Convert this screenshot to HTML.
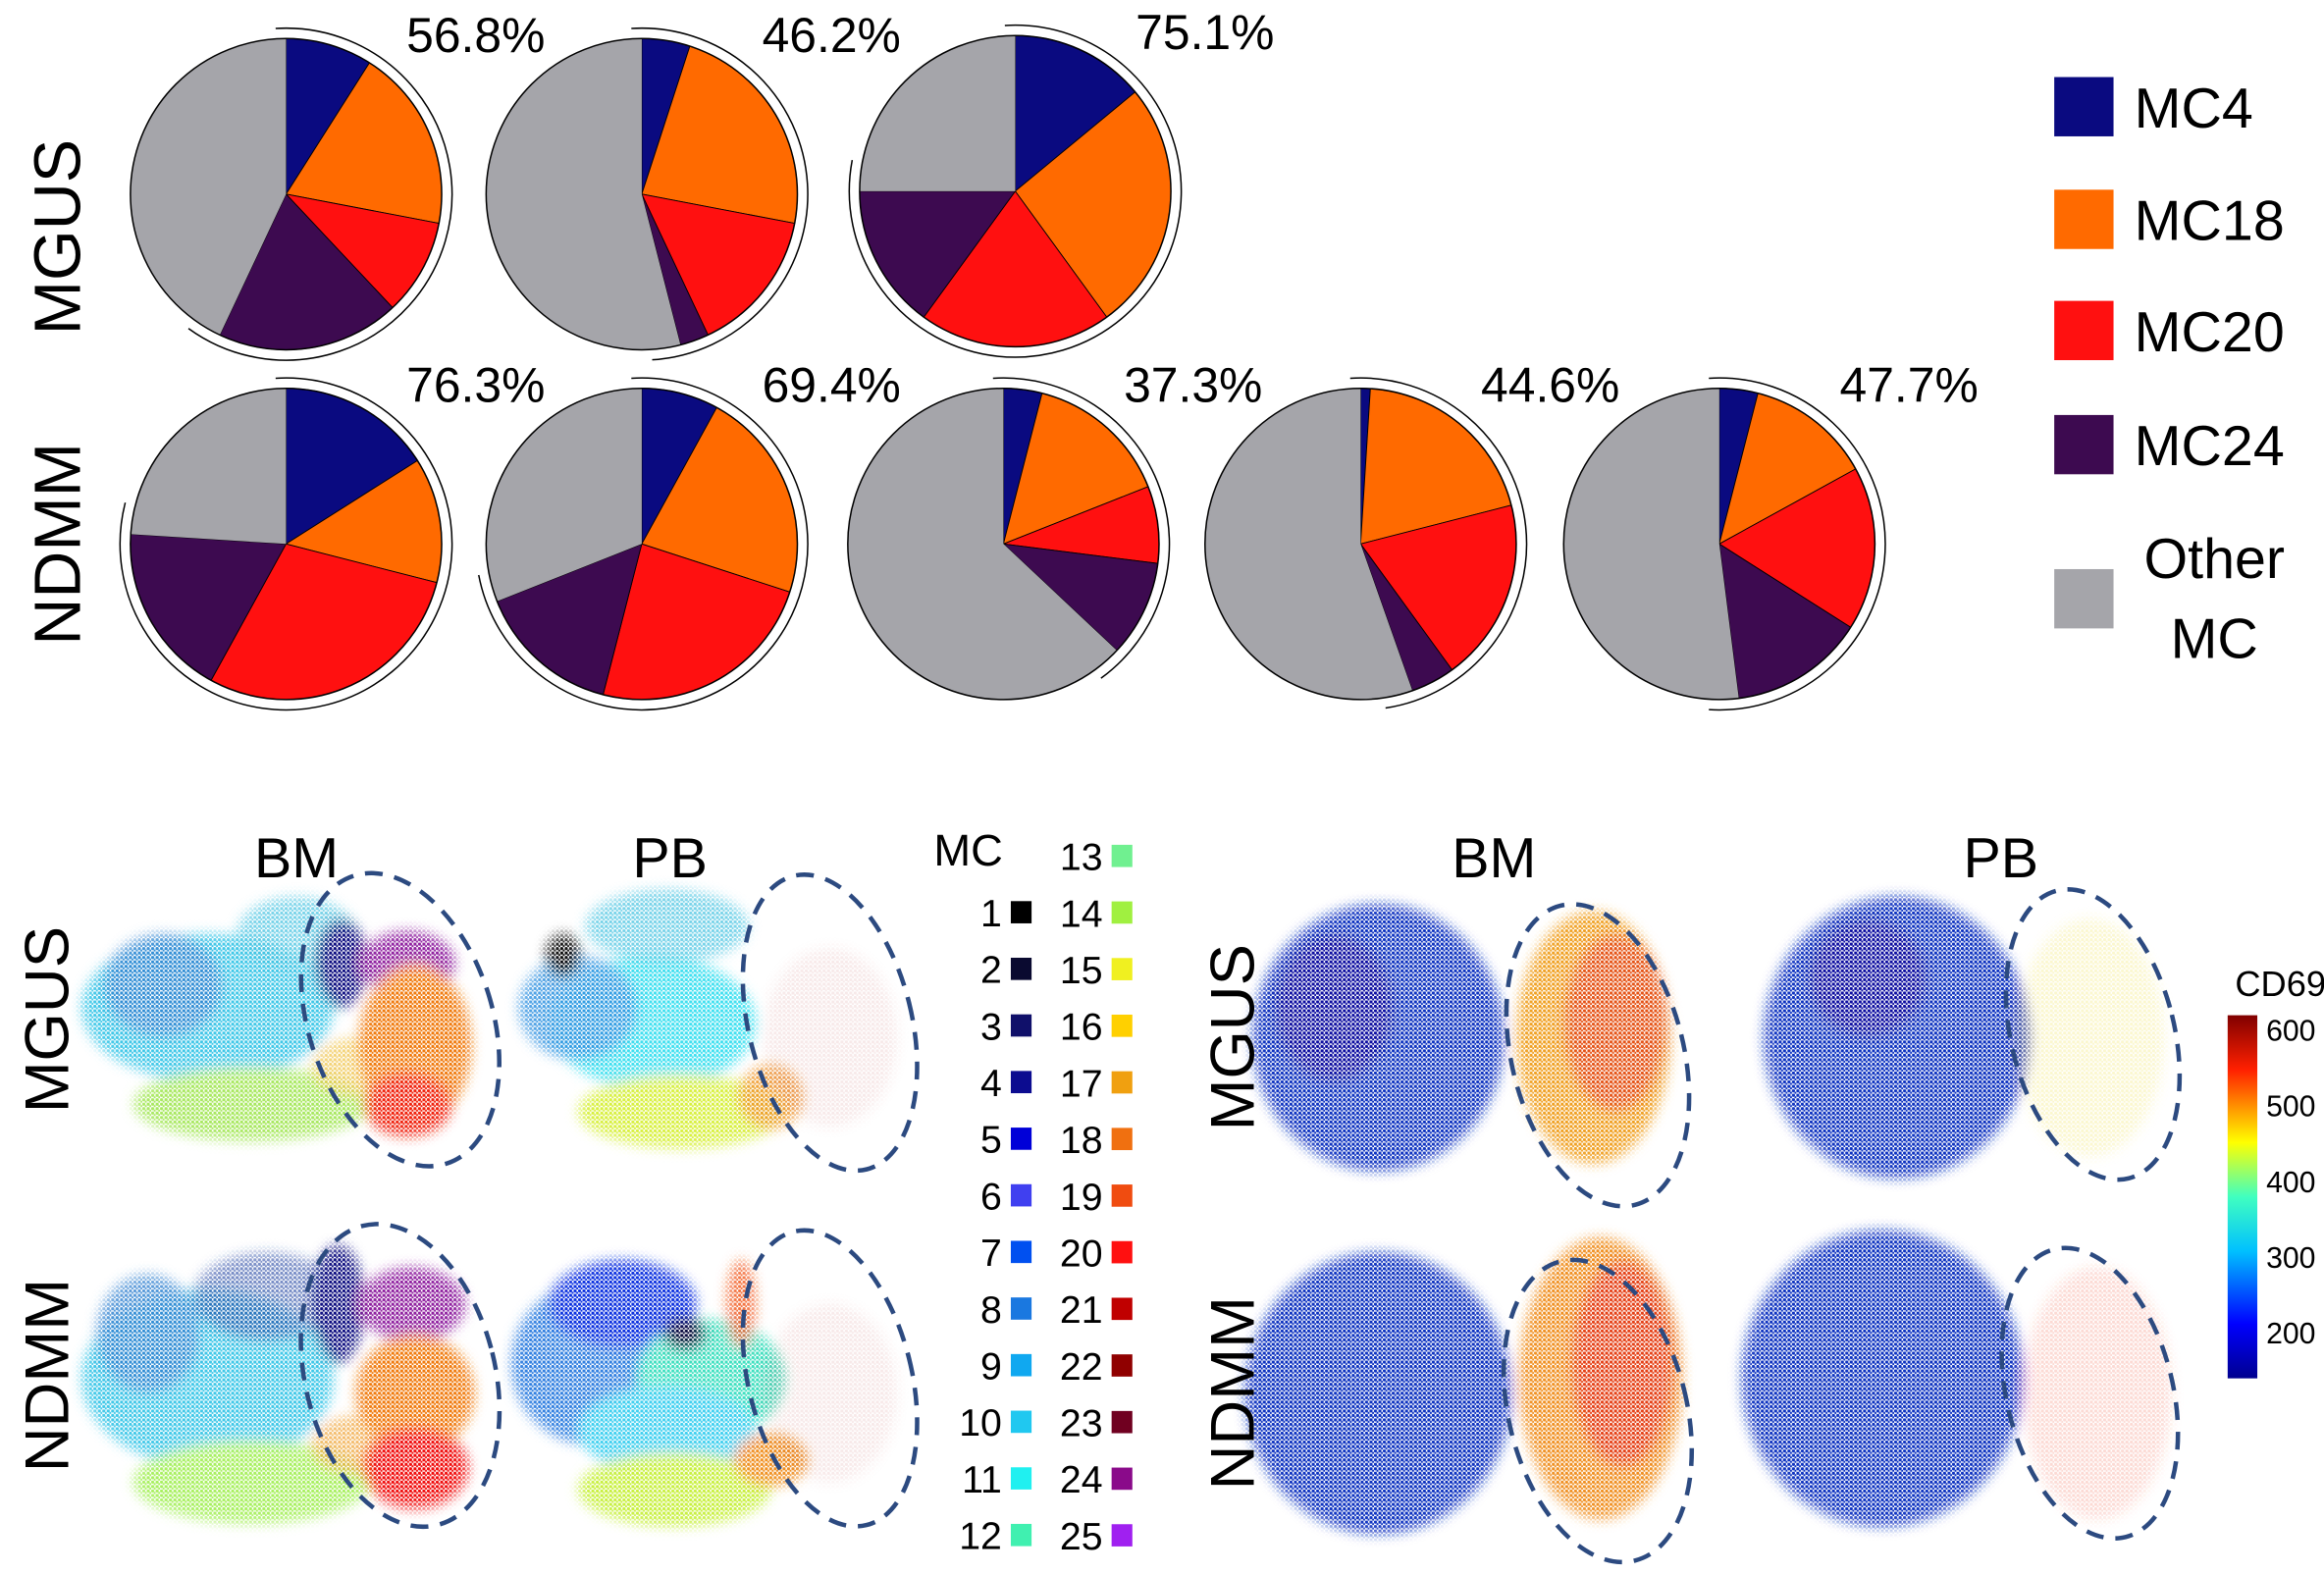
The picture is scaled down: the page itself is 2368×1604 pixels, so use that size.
<!DOCTYPE html>
<html><head><meta charset="utf-8"><style>
html,body{margin:0;padding:0;background:#fff;}
svg{display:block;font-family:"Liberation Sans",sans-serif;}
</style></head><body>
<svg id="fig" width="2368" height="1604" viewBox="0 0 1568 1062" preserveAspectRatio="none" xmlns="http://www.w3.org/2000/svg">
<defs>
<pattern id="dots" width="3" height="3" patternUnits="userSpaceOnUse"><circle cx="1" cy="1" r="1.1" fill="#fff"/><circle cx="2.5" cy="2.4" r="0.8" fill="#fff"/></pattern>
<mask id="dm" maskUnits="userSpaceOnUse" x="0" y="0" width="1568" height="1062"><rect x="0" y="0" width="1568" height="1062" fill="url(#dots)"/></mask>
<filter id="bl"><feGaussianBlur stdDeviation="4"/></filter>
<linearGradient id="jet" x1="0" y1="1" x2="0" y2="0">
<stop offset="0" stop-color="#00008f"/><stop offset="0.15" stop-color="#0000ff"/><stop offset="0.35" stop-color="#00c0ff"/><stop offset="0.5" stop-color="#40ffc0"/><stop offset="0.65" stop-color="#ffff00"/><stop offset="0.85" stop-color="#ff2000"/><stop offset="1" stop-color="#800000"/>
</linearGradient>
</defs>
<g id="pies"></g>
<g font-size="44">
<text transform="translate(54,160) rotate(-90)" text-anchor="middle">MGUS</text>
<text transform="translate(54,367) rotate(-90)" text-anchor="middle">NDMM</text>
</g>
<g id="legend" font-size="38"></g>

<g id="scat"></g>
<g font-size="38">
<text x="200" y="592" text-anchor="middle">BM</text>
<text x="452" y="592" text-anchor="middle">PB</text>
<text x="1008" y="592" text-anchor="middle">BM</text>
<text x="1350" y="592" text-anchor="middle">PB</text>
</g>
<g font-size="42">
<text transform="translate(46,688) rotate(-90)" text-anchor="middle">MGUS</text>
<text transform="translate(46,928) rotate(-90)" text-anchor="middle">NDMM</text>
<text transform="translate(846,700) rotate(-90)" text-anchor="middle">MGUS</text>
<text transform="translate(846,940) rotate(-90)" text-anchor="middle">NDMM</text>
</g>
<g id="mclegend" font-size="26"></g>
<g>
<text x="1508" y="672" font-size="24">CD69</text>
<rect x="1503" y="685" width="20" height="245" fill="url(#jet)"/>
<g id="cbticks" font-size="20"></g>
</g>

<script>
const NS='http://www.w3.org/2000/svg';
function mk(tag,attrs,parent){const e=document.createElementNS(NS,tag);for(const k in attrs)e.setAttribute(k,attrs[k]);parent.appendChild(e);return e;}
const sliceNames=['MC4','MC18','MC20','MC24','Other MC'];
const sliceColors=['#0a0a80','#ff6a00','#ff1010','#3d0a50','#a5a5aa'];
const pieCentersX=[193,433,685,193,433,677,918,1160];
const pieCentersY=[131,131,129,367,367,367,367,367];
const pieLabels=['56.8%','46.2%','75.1%','76.3%','69.4%','37.3%','44.6%','47.7%'];
const pie1=[9,19,10,19];
const pie2=[5,23,15,3];
const pie3=[14,26,20,15];
const pie4=[16,13,29,18];
const pie5=[8,22,24,15];
const pie6=[4,15,8,10];
const pie7=[1,20,19,4.6];
const pie8=[4,13,17,14];
const pieValues=[pie1,pie2,pie3,pie4,pie5,pie6,pie7,pie8];
const R=105;
const pg=document.getElementById('pies');
function pt(cx,cy,r,f){const a=f*2*Math.PI;return [cx+r*Math.sin(a),cy-r*Math.cos(a)];}
function arcPath(cx,cy,r,f0,f1){const p0=pt(cx,cy,r,f0),p1=pt(cx,cy,r,f1);const large=(f1-f0)>0.5?1:0;return `M${cx},${cy}L${p0[0]},${p0[1]}A${r},${r} 0 ${large} 1 ${p1[0]},${p1[1]}Z`;}
pieValues.forEach((vals,i)=>{
  const cx=pieCentersX[i],cy=pieCentersY[i];
  const g=mk('g',{},pg);
  
  
  const sum=vals.reduce((a,b)=>a+b,0);
  const all=vals.concat([100-sum]);
  let f=0;
  all.forEach((v,j)=>{
    const p=mk('path',{d:arcPath(cx,cy,R,f/100,(f+v)/100),fill:sliceColors[j],stroke:j<4?'#000':'none','stroke-width':0.6},g);
    
    
    f+=v;
  });
  mk('circle',{cx:cx,cy:cy,r:R,fill:'none',stroke:'#000','stroke-width':1},g);
  const a0=-0.01,a1=sum/100+0.03;
  const p0=pt(cx,cy,R+7,a0),p1=pt(cx,cy,R+7,a1);
  const arc=mk('path',{d:`M${p0[0]},${p0[1]}A${R+7},${R+7} 0 ${(a1-a0)>0.5?1:0} 1 ${p1[0]},${p1[1]}`,fill:'none',stroke:'#000','stroke-width':1},g);
  
  
  const t=mk('text',{x:cx+128,y:cy-96,'font-size':33,'text-anchor':'middle'},g);
  t.textContent=pieLabels[i];
  
  
});
const lg=document.getElementById('legend');
const legY=[52,128,203,280,384];
sliceNames.forEach((n,j)=>{
  const r=mk('rect',{x:1386,y:legY[j],width:40,height:40,fill:sliceColors[j]},lg);
  
  
  if(j<4){const t=mk('text',{x:1440,y:legY[j]+34},lg);t.textContent=n;}
  else{const t=mk('text',{x:1494,y:390,'text-anchor':'middle'},lg);t.textContent='Other';
       const t2=mk('text',{x:1494,y:444,'text-anchor':'middle'},lg);t2.textContent='MC';}
});
const mcColors=['#000000','#0a0a30','#10106a','#0c0c90','#0000d8','#4040f0','#0050f0','#1a78e0','#10a8f0','#20c8f0','#20f0f0','#40f0b0','#70f090','#a0f040','#f0f020','#ffd000','#f0a010','#f07010','#f04c10','#ff1010','#c00000','#900000','#700020','#8a0a8a','#a020f0'];
const mg=document.getElementById('mclegend');
const mct=mk('text',{x:630,y:584,'font-size':30},mg);mct.textContent='MC';


for(let k=0;k<25;k++){
  let x,y;
  if(k<12){y=615+k*38.2;x=676;}else{y=577+(k-12)*38.2;x=744;}
  const t=mk('text',{x:x,y:y+10,'text-anchor':'end'},mg);t.textContent=String(k+1);
  
  
  const r=mk('rect',{x:x+6,y:y-7,width:14,height:15,fill:mcColors[k]},mg);
  
  
}
const cbTicks=[600,500,400,300,200];
const cb=document.getElementById('cbticks');
cbTicks.forEach(v=>{const y=930-(v-140)/(620-140)*245;const t=mk('text',{x:1529,y:y+7},cb);t.textContent=v;});
const sg=document.getElementById('scat');
function plot(blobs,name){
  const g=mk('g',{mask:'url(#dm)'},sg);
  
  
  const gi=mk('g',{filter:'url(#bl)'},g);
  blobs.forEach(b=>mk('ellipse',{cx:b[0],cy:b[1],rx:b[2],ry:b[3],fill:b[4],opacity:b[5]||1},gi));
}
const bmMGUS=[[140,680,85,50,'#40c8e8'],[110,665,40,35,'#3080d0',0.8],[200,630,40,25,'#40c0e0',0.7],[170,745,80,25,'#a8e860'],[240,720,30,20,'#f0c040',0.7],[230,650,18,30,'#101080'],[275,650,32,22,'#9020a0'],[280,705,38,55,'#f07a10'],[275,745,30,22,'#f02010']];
const pbMGUS=[[440,690,70,45,'#40e0f0'],[390,680,40,35,'#3090e0',0.85],[450,625,55,25,'#40c0e0',0.7],[460,750,70,25,'#d8f040'],[520,740,22,22,'#f09020',0.8],[380,645,12,15,'#101010'],[560,700,45,60,'#c04040',0.12]];
const bmNDMM=[[140,930,85,60,'#40c8e8'],[100,900,35,40,'#3080d0',0.8],[180,875,50,30,'#2040a0',0.6],[170,1000,80,28,'#a8f060'],[240,975,30,20,'#f0a030',0.7],[228,880,18,40,'#101080'],[278,880,36,25,'#9020a0'],[280,940,40,40,'#f07a10'],[280,990,36,28,'#f01010']];
const pbNDMM=[[400,920,55,55,'#3080e0'],[420,880,50,30,'#1030e0'],[480,930,50,40,'#40e0c0'],[450,965,60,30,'#40d0f0'],[455,1005,65,25,'#c8f040'],[520,985,25,18,'#f09020'],[462,900,15,12,'#101040'],[500,880,10,30,'#f05010',0.8],[560,940,45,60,'#c04040',0.12]];
plot(bmMGUS,'scatter-bm-mgus-mc');
plot(pbMGUS,'scatter-pb-mgus-mc');
plot(bmNDMM,'scatter-bm-ndmm-mc');
plot(pbNDMM,'scatter-pb-ndmm-mc');
const cdBM1=[[930,700,85,90,'#1030c0'],[900,680,40,50,'#0a10a0'],[1075,700,52,85,'#f0a020'],[1090,690,35,60,'#e03010',0.7]];
const cdPB1=[[1280,700,90,95,'#1030c0'],[1260,660,40,40,'#0a10a0'],[1410,700,50,80,'#f0e040',0.25]];
const cdBM2=[[930,940,90,95,'#1030c0'],[1080,930,55,95,'#f09020'],[1095,920,35,70,'#e02010',0.7]];
const cdPB2=[[1270,930,95,100,'#1030c0'],[1415,940,50,85,'#f04020',0.2]];
plot(cdBM1,'scatter-bm-mgus-cd69');
plot(cdPB1,'scatter-pb-mgus-cd69');
plot(cdBM2,'scatter-bm-ndmm-cd69');
plot(cdPB2,'scatter-pb-ndmm-cd69');
const ell=[[270,688,62,102,-18],[560,690,55,102,-14],[270,928,64,104,-14],[560,930,55,102,-14],[1078,712,58,104,-14],[1412,698,55,100,-14],[1078,952,60,104,-14],[1410,940,56,100,-14]];
ell.forEach(e=>{const el=mk('ellipse',{cx:e[0],cy:e[1],rx:e[2],ry:e[3],transform:`rotate(${e[4]} ${e[0]} ${e[1]})`,fill:'none',stroke:'#2c4a80','stroke-width':3,'stroke-dasharray':'12 8'},sg);});
</script>
</svg>
</body></html>
